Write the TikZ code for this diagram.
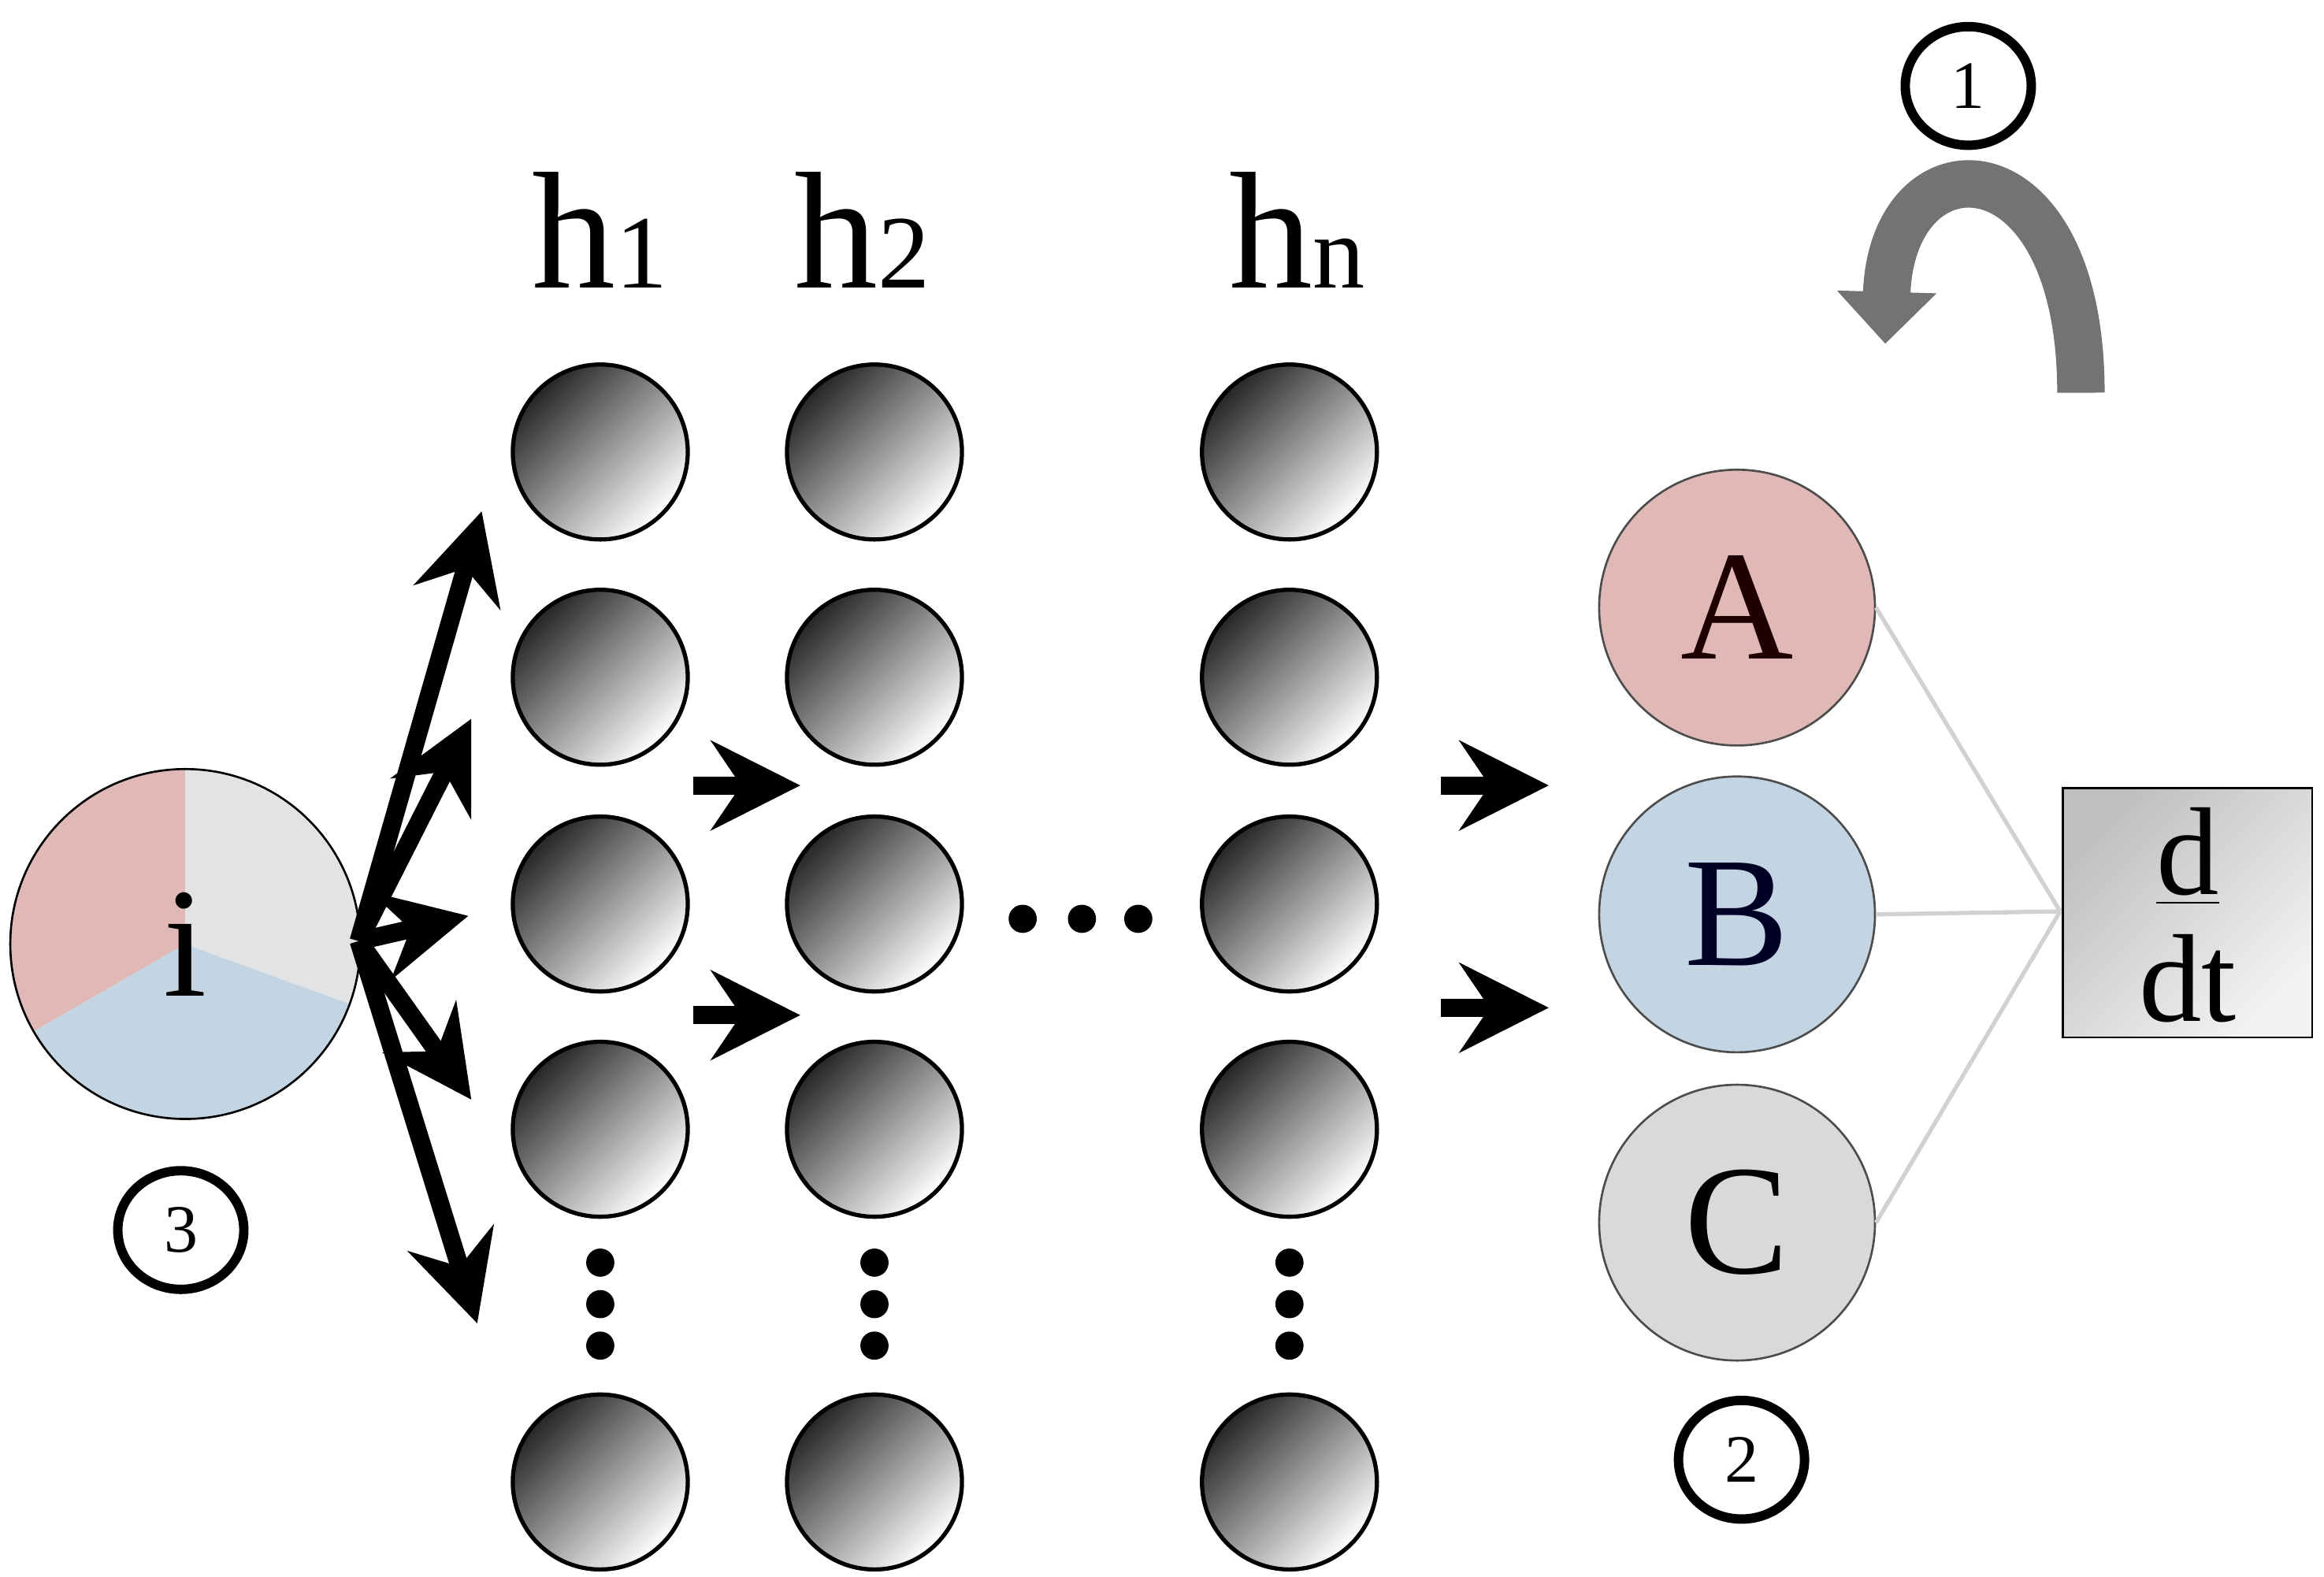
\documentclass[tikz,border=0pt]{standalone}
\usepackage{fontspec}
\setmainfont{Liberation Serif}
\usetikzlibrary{arrows.meta,shapes.geometric}
\definecolor{cred}{HTML}{E0B8B6}
\definecolor{cblue}{HTML}{C3D5E2}
\definecolor{cgray}{HTML}{E3E3E3}
\begin{document}
\begin{tikzpicture}[x=0.01cm,y=-0.01cm,
  neuron/.style={circle,draw=black,thick,minimum size=1.18cm,inner sep=0pt,top color=black!85,bottom color=white,shading angle=45},
  dot/.style={circle,fill=black,inner sep=0pt,minimum size=0.19cm},
  big/.style={font=\fontsize{32}{32}\selectfont},
  lab/.style={font=\fontsize{30}{30}\selectfont},
  num/.style={ellipse,draw=black,line width=1.8pt,minimum width=0.85cm,minimum height=0.8cm,inner sep=0pt,font=\fontsize{13}{13}\selectfont},
  fat/.style={line width=3.5pt,-{Stealth[length=0.6cm,width=0.6cm,inset=0.2cm]}},
  outc/.style={circle,draw=black!70,minimum size=1.86cm,inner sep=0pt},
  link/.style={draw=black!18,line width=0.8pt}]
\useasboundingbox (0,0) rectangle (1568,1064);
% columns
\foreach \c/\x in {a/405,b/590,c/870}{
  \foreach \r/\y in {1/305,2/457,3/610,4/762,5/1000}{
    \node[neuron] (\c\r) at (\x,\y) {};}
  \foreach \k/\y in {1/852,2/880,3/908}{\node[dot] (\c d\k) at (\x,\y) {};}
}
\node[big] (h1) at (405,155) {h\fontsize{20}{20}\selectfont 1};
\node[big] (h2) at (582,155) {h\fontsize{20}{20}\selectfont 2};
\node[big] (hn) at (875,155) {h\fontsize{20}{20}\selectfont n};
\foreach \k/\x in {1/690,2/730,3/768}{\node[dot] (m\k) at (\x,620) {};}
% input pie
\coordinate (ic) at (125,637);
\fill[cred] (ic) -- ++(-90:118) arc[start angle=-90,end angle=-210,radius=118] -- cycle;
\fill[cblue] (ic) -- ++(-210:118) arc[start angle=-210,end angle=-340,radius=118] -- cycle;
\fill[cgray] (ic) -- ++(-340:118) arc[start angle=-340,end angle=-450,radius=118] -- cycle;
\node[circle,draw=black,minimum size=2.36cm,inner sep=0pt,lab] (in) at (ic) {i};
% arrows from input
\coordinate (s) at (242,635);
\coordinate (t1) at (325,345);
\coordinate (t2) at (318,485);
\coordinate (t3) at (316,618);
\coordinate (t4) at (318,742);
\coordinate (t5) at (322,893);
\foreach \k in {1,...,5}{\draw[fat] (s) -- (t\k);}
% between layers
\coordinate (p1) at (468,530); \coordinate (q1) at (540,530);
\coordinate (p2) at (468,685); \coordinate (q2) at (540,685);
\draw[fat] (p1) -- (q1);
\draw[fat] (p2) -- (q2);
% outputs
\node[outc,fill=cred,lab,text=black!70!red!40!black] (A) at (1172,410) {A};
\node[outc,fill=cblue,lab,text=black!85!blue] (B) at (1172,617) {B};
\node[outc,fill=black!15,lab] (C) at (1172,825) {C};
\coordinate (p3) at (972,530); \coordinate (q3) at (1045,530);
\coordinate (p4) at (972,680); \coordinate (q4) at (1045,680);
\draw[fat] (p3) -- (q3);
\draw[fat] (p4) -- (q4);
% d/dt box
\node[draw=black,minimum width=1.68cm,minimum height=1.68cm,inner sep=0pt,top color=black!25,bottom color=black!5,shading angle=45] (D) at (1476,616) {};
\node[font=\fontsize{24}{24}\selectfont,inner sep=1pt] (dn) at (1476,578) {\underline{d}};
\node[font=\fontsize{24}{24}\selectfont,inner sep=1pt] (dd) at (1476,660) {dt};
\coordinate (j) at (1390,615);
\draw[link] (A.east) -- (j);
\draw[link] (B.east) -- (j);
\draw[link] (C.east) -- (j);
% curved arrow
\coordinate (cs) at (1404,265);
\coordinate (ce) at (1272,232);
\draw[line width=0.32cm,black!55,-{Triangle[length=0.35cm,width=0.65cm]}] (cs) .. controls (1404,90) and (1276,90) .. (ce);
% numbers
\node[num] (n1) at (1328,58) {1};
\node[num] (n3) at (122,830) {3};
\node[num] (n2) at (1175,985) {2};
\end{tikzpicture}
\end{document}
